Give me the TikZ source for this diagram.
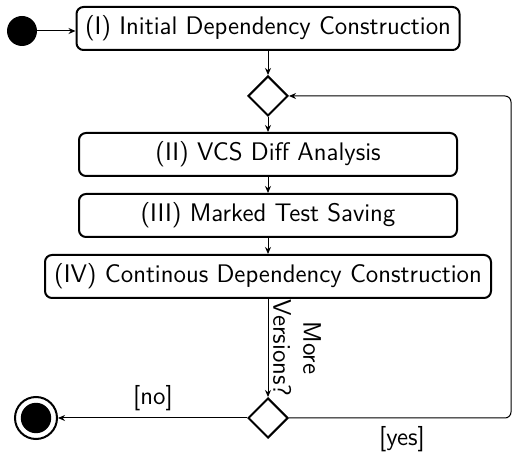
\documentclass[tikz,border=0pt]{standalone}
\usepackage{tikz}
\usetikzlibrary{shapes.geometric,arrows.meta}

\begin{document}
\begin{tikzpicture}[x=0.5pt,y=-0.5pt,
  every node/.style={font=\sffamily\fontsize{12.7pt}{15pt}\selectfont},
  activity/.style={draw,rounded corners=3.5pt,line width=1pt,minimum height=21.5pt,inner sep=0pt},
  decision/.style={draw,diamond,line width=1pt,minimum size=20pt,inner sep=0pt},
  flow/.style={-{Stealth[length=3.5pt,width=3pt]},line width=0.5pt}]
\useasboundingbox (0,0) rectangle (514,453);
\node [circle,fill=black,minimum size=15pt,inner sep=0pt] (start) at (22,31) {};
\node [activity,minimum width=191.5pt] (init) at (268,28.5) {(I) Initial Dependency Construction};
\node [decision] (merge) at (268,96) {};
\node [activity,minimum width=189pt] (diff) at (268,154.5) {(II) VCS Diff Analysis};
\node [activity,minimum width=189pt] (save) at (268,215.5) {(III) Marked Test Saving};
\node [activity,minimum width=223pt] (cont) at (268,276.5) {(IV) Continous Dependency Construction};
\node [decision] (vers) at (268,418) {};
\node [circle,draw,line width=1pt,minimum size=21pt,inner sep=0pt,
  path picture={\fill (path picture bounding box.center) circle (7.6pt);}] (stop) at (36,418) {};
\coordinate (loop) at (511,0);

\draw [flow] (start) -- (start -| init.west);
\draw [flow] (init) -- (merge);
\draw [flow] (merge) -- (diff);
\draw [flow] (diff) -- (save);
\draw [flow] (save) -- (cont);
\draw [flow] (cont) -- (vers);
\draw [flow] (vers.west) -- (stop);
\draw [flow,rounded corners=3pt] (vers.east) -- (vers.east -| loop) -- (merge.east -| loop) -- (merge.east);

\node (no) at (153,398) {[no]};
\node (yes) at (402,439) {[yes]};
\node [rotate=-90,align=center,inner sep=0pt] (more) at (297,348) {More\\Versions?};
\end{tikzpicture}
\end{document}
